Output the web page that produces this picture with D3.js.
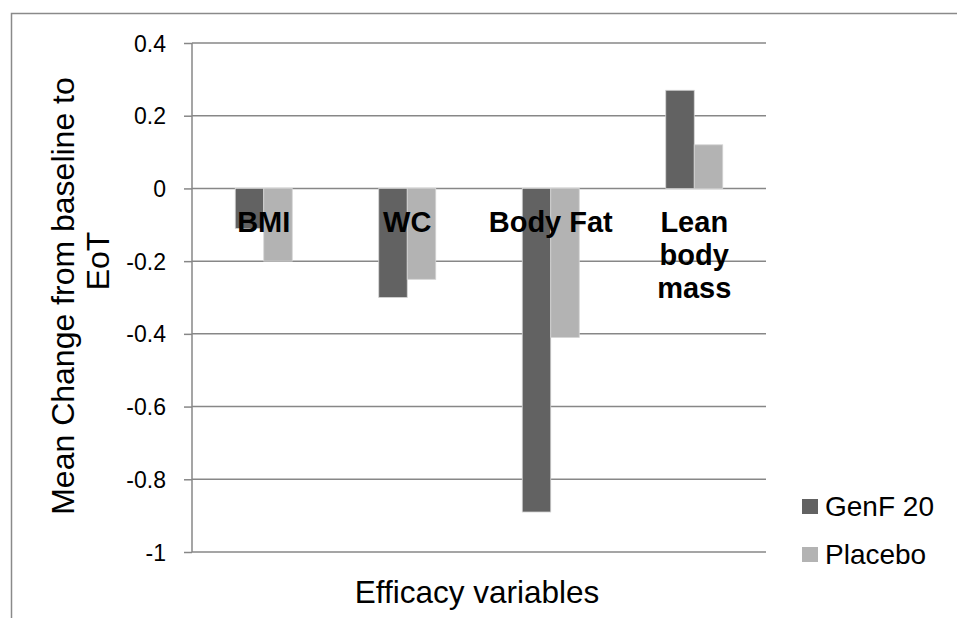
<!DOCTYPE html>
<html>
<head>
<meta charset="utf-8">
<script src="https://cdnjs.cloudflare.com/ajax/libs/d3/7.8.5/d3.min.js"></script>
<style>
  body { margin: 0; background: #fff; }
  text { font-family: "Liberation Sans", Arial, sans-serif; fill: #000; }
</style>
</head>
<body>
<div id="chart"></div>
<script>
const categories = ["BMI", "WC", "Body Fat", "Lean body mass"];
const seriesNames = ["GenF 20", "Placebo"];
const genF20 = [-0.11, -0.3, -0.89, 0.27];
const placebo = [-0.2, -0.25, -0.41, 0.12];
const yTicks = [0.4, 0.2, 0, -0.2, -0.4, -0.6, -0.8, -1];

const colors = { "GenF 20": "#626262", "Placebo": "#b3b3b3" };

const data = categories.map((c, i) => ({
  categorie: c,
  values: [
    { rate: "GenF 20", value: genF20[i] },
    { rate: "Placebo", value: placebo[i] },
  ],
}));

const W = 957, H = 618;
const svg = d3.select("#chart").append("svg").attr("width", W).attr("height", H);

// outer chart border (cut off at right and bottom)
svg.append("path")
  .attr("d", `M11.5,${H} V13.5 H${W}`)
  .attr("fill", "none")
  .attr("stroke", "#8a8a8a")
  .attr("stroke-width", 1.5);

const plot = { left: 192, right: 766, top: 43, bottom: 552 };

var x0 = d3.scaleBand().domain(categories).range([plot.left, plot.right]);
var barW = 28.5;
var x1 = d3.scaleBand().domain(seriesNames)
  .range([x0.bandwidth() / 2 - barW, x0.bandwidth() / 2 + barW]);
var y = d3.scaleLinear().domain([-1, 0.4]).range([plot.bottom, plot.top]);

// gridlines
svg.append("g")
  .selectAll("line")
  .data(yTicks)
  .enter()
  .append("line")
  .attr("x1", plot.left)
  .attr("x2", plot.right)
  .attr("y1", (d) => y(d))
  .attr("y2", (d) => y(d))
  .attr("stroke", "#878787")
  .attr("stroke-width", 1.5);

// bars
const slice = svg.selectAll(".slice")
  .data(data)
  .enter()
  .append("g")
  .attr("class", "slice")
  .attr("transform", (d) => `translate(${x0(d.categorie)},0)`);

slice.selectAll("rect")
  .data((d) => d.values)
  .enter()
  .append("rect")
  .attr("x", (d) => x1(d.rate))
  .attr("width", x1.bandwidth())
  .attr("y", (d) => y(Math.max(0, d.value)))
  .attr("height", (d) => Math.abs(y(d.value) - y(0)))
  .attr("fill", (d) => colors[d.rate])
  .attr("stroke", "#d4d4d4")
  .attr("stroke-width", 0.8);

// y axis (plain hyphen for negatives, like the original)
const yAxis = svg.append("g")
  .attr("transform", `translate(${plot.left},0)`)
  .call(d3.axisLeft(y).tickValues(yTicks).tickSize(8).tickPadding(18)
    .tickFormat((d) => String(+d.toFixed(1))));
yAxis.select(".domain").attr("stroke", "#878787").attr("stroke-width", 1.5)
  .attr("d", `M0,${plot.top}V${plot.bottom}`);
yAxis.selectAll(".tick line").attr("stroke", "#878787").attr("stroke-width", 1.5);
yAxis.selectAll(".tick text")
  .style("font-family", '"Liberation Sans", Arial, sans-serif')
  .style("font-size", "23px")
  .attr("fill", "#000")
  .attr("dy", "0.35em");

// category labels, just under the zero line
const catLines = { "Lean body mass": ["Lean", "body", "mass"] };
slice.append("text")
  .attr("text-anchor", "middle")
  .style("font-weight", "bold")
  .style("font-size", "29px")
  .attr("y", y(0) + 44)
  .selectAll("tspan")
  .data((d) => catLines[d.categorie] || [d.categorie])
  .enter()
  .append("tspan")
  .attr("x", x0.bandwidth() / 2)
  .attr("dy", (d, i) => (i === 0 ? 0 : 33))
  .text((d) => d);

// axis titles
svg.append("text")
  .attr("text-anchor", "middle")
  .style("font-size", "32px")
  .attr("transform", "translate(74,296) rotate(-90)")
  .text("Mean Change from baseline to");
svg.append("text")
  .attr("text-anchor", "middle")
  .style("font-size", "32px")
  .attr("transform", "translate(109,261) rotate(-90)")
  .text("EoT");

svg.append("text")
  .attr("text-anchor", "middle")
  .style("font-size", "31.5px")
  .attr("x", 477)
  .attr("y", 603)
  .text("Efficacy variables");

// legend
const legend = svg.selectAll(".legend")
  .data(seriesNames)
  .enter()
  .append("g")
  .attr("class", "legend")
  .attr("transform", (d, i) => `translate(802,${499 + i * 48})`);
legend.append("rect")
  .attr("width", 16)
  .attr("height", 15)
  .attr("fill", (d) => colors[d]);
legend.append("text")
  .attr("x", 23)
  .attr("y", 17)
  .style("font-size", "28px")
  .text((d) => d);
</script>
</body>
</html>
